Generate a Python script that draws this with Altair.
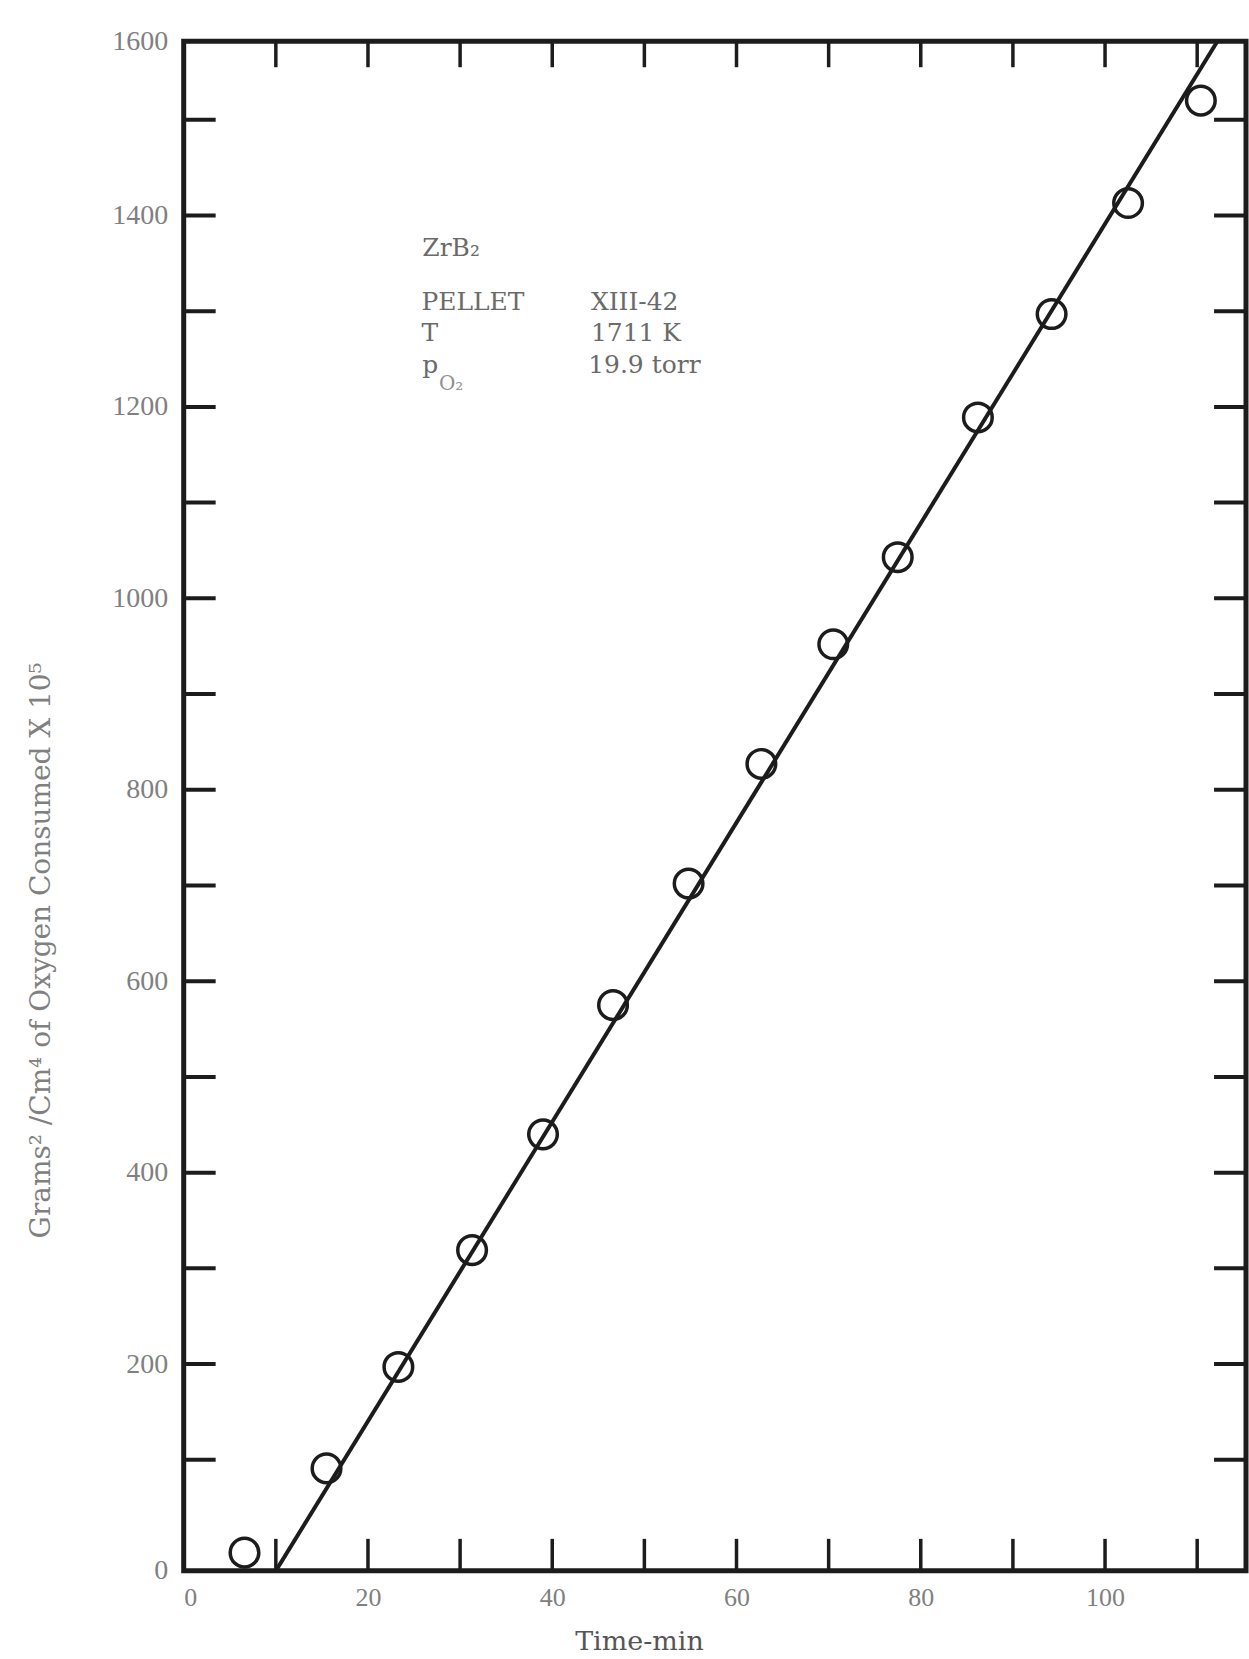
import altair as alt
import pandas as pd

# Measured oxidation of ZrB2 pellet XIII-42
time_min = [6.6, 15.5, 23.3, 31.3, 39.0, 46.6, 54.8, 62.7, 70.5, 77.5, 86.2, 94.2, 102.5, 110.4]
oxygen_sq = [3, 91, 197, 319, 440, 575, 702, 827, 952, 1043, 1189, 1297, 1413, 1520]

# Straight-line fit, drawn corner to corner of the frame
fit_time = [10.0, 112.2]
fit_oxygen = [-16, 1582]

# Frame extent (the printed frame sits slightly off the tick grid)
x_range = [0, 115.3]
y_range = [-16, 1582]

# Axis ticks and labels
x_minor = list(range(10, 111, 10))
y_minor = list(range(100, 1501, 100))
x_labels = [0, 20, 40, 60, 80, 100]
y_labels = [-16, 200, 400, 600, 800, 1000, 1200, 1400, 1582]

# Legend block text
note_time = [25.9, 25.8, 44.2, 25.8, 44.2, 25.9, 43.9]
note_value = [1366, 1310, 1310, 1277, 1277, 1244, 1244]
note_text = ["ZrB\u2082", "PELLET", "XIII-42", "T", "1711  K", "p", "19.9 torr"]
sub_time = [27.7]
sub_value = [1224]
sub_text = ["O\u2082"]

W, H = 1064, 1532
INK = "#1c1c1c"
GREY = "#808080"

x_scale = alt.Scale(domain=x_range, nice=False, zero=False)
y_scale = alt.Scale(domain=y_range, nice=False, zero=False)

obs = pd.DataFrame({"t": time_min, "w": oxygen_sq})
fit = pd.DataFrame({"t": fit_time, "w": fit_oxygen})
notes = pd.DataFrame({"t": note_time, "w": note_value, "label": note_text})
subs = pd.DataFrame({"t": sub_time, "w": sub_value, "label": sub_text})
xt = pd.DataFrame({"t": x_minor})
yt = pd.DataFrame({"w": y_minor})

x_axis = alt.Axis(
    values=x_labels, format="d", title="Time-min", domain=False, ticks=False, grid=False,
    labelFont="Liberation Serif", labelFontSize=26, labelColor=GREY, labelPadding=14,
    labelBaseline="top",
    titleFont="DejaVu Serif", titleFontSize=27, titleFontWeight="normal", titleColor="#555555",
    titleX=456, titleY=71, titleAlign="center", titleBaseline="middle",
)
y_axis = alt.Axis(
    values=y_labels, format="d",
    labelExpr="datum.value < 0 ? '0' : datum.value > 1500 ? '1600' : datum.label",
    title="Grams\u00b2 /Cm\u2074  of  Oxygen  Consumed  X 10\u2075",
    domain=False, ticks=False, grid=False,
    labelFont="Liberation Serif", labelFontSize=28, labelColor=GREY, labelPadding=16,
    titleFont="DejaVu Serif", titleFontSize=28, titleFontWeight="normal", titleColor=GREY,
    titleAngle=270, titleX=-142, titleY=910, titleAlign="center", titleBaseline="middle",
)

# One shared encoding for every layer so the axes merge cleanly
X = alt.X("t:Q", scale=x_scale, axis=x_axis)
Y = alt.Y("w:Q", scale=y_scale, axis=y_axis)

points = alt.Chart(obs).mark_point(
    shape="circle", filled=False, size=820, strokeWidth=3.5, color=INK, opacity=1
).encode(x=X, y=Y)

line = alt.Chart(fit).mark_line(color=INK, strokeWidth=4, clip=True).encode(x=X, y=Y)

left_ticks = alt.Chart(yt).mark_rule(color=INK, strokeWidth=4).encode(
    y=Y, x=alt.value(0), x2=alt.value(32)
)
right_ticks = alt.Chart(yt).mark_rule(color=INK, strokeWidth=4).encode(
    y=Y, x=alt.value(W - 32), x2=alt.value(W)
)
bottom_ticks = alt.Chart(xt).mark_rule(color=INK, strokeWidth=3.5).encode(
    x=X, y=alt.value(H - 32), y2=alt.value(H)
)
top_ticks = alt.Chart(xt).mark_rule(color=INK, strokeWidth=3.5).encode(
    x=X, y=alt.value(0), y2=alt.value(26)
)

note_layer = alt.Chart(notes).mark_text(
    align="left", baseline="middle", font="DejaVu Serif", fontSize=25, color="#6a6a6a"
).encode(x=X, y=Y, text="label:N")

sub_layer = alt.Chart(subs).mark_text(
    align="left", baseline="middle", font="DejaVu Serif", fontSize=20, color="#909090"
).encode(x=X, y=Y, text="label:N")

chart = alt.layer(
    points, line, left_ticks, right_ticks, bottom_ticks, top_ticks, note_layer, sub_layer
).properties(
    width=W, height=H,
    padding={"left": 184, "top": 40, "right": 3, "bottom": 87},
    autosize=alt.AutoSizeParams(type="none"),
    background="white",
).configure_view(
    stroke=INK, strokeWidth=5
)

chart.save("out.html", embed_options={"renderer": "svg", "actions": False})
